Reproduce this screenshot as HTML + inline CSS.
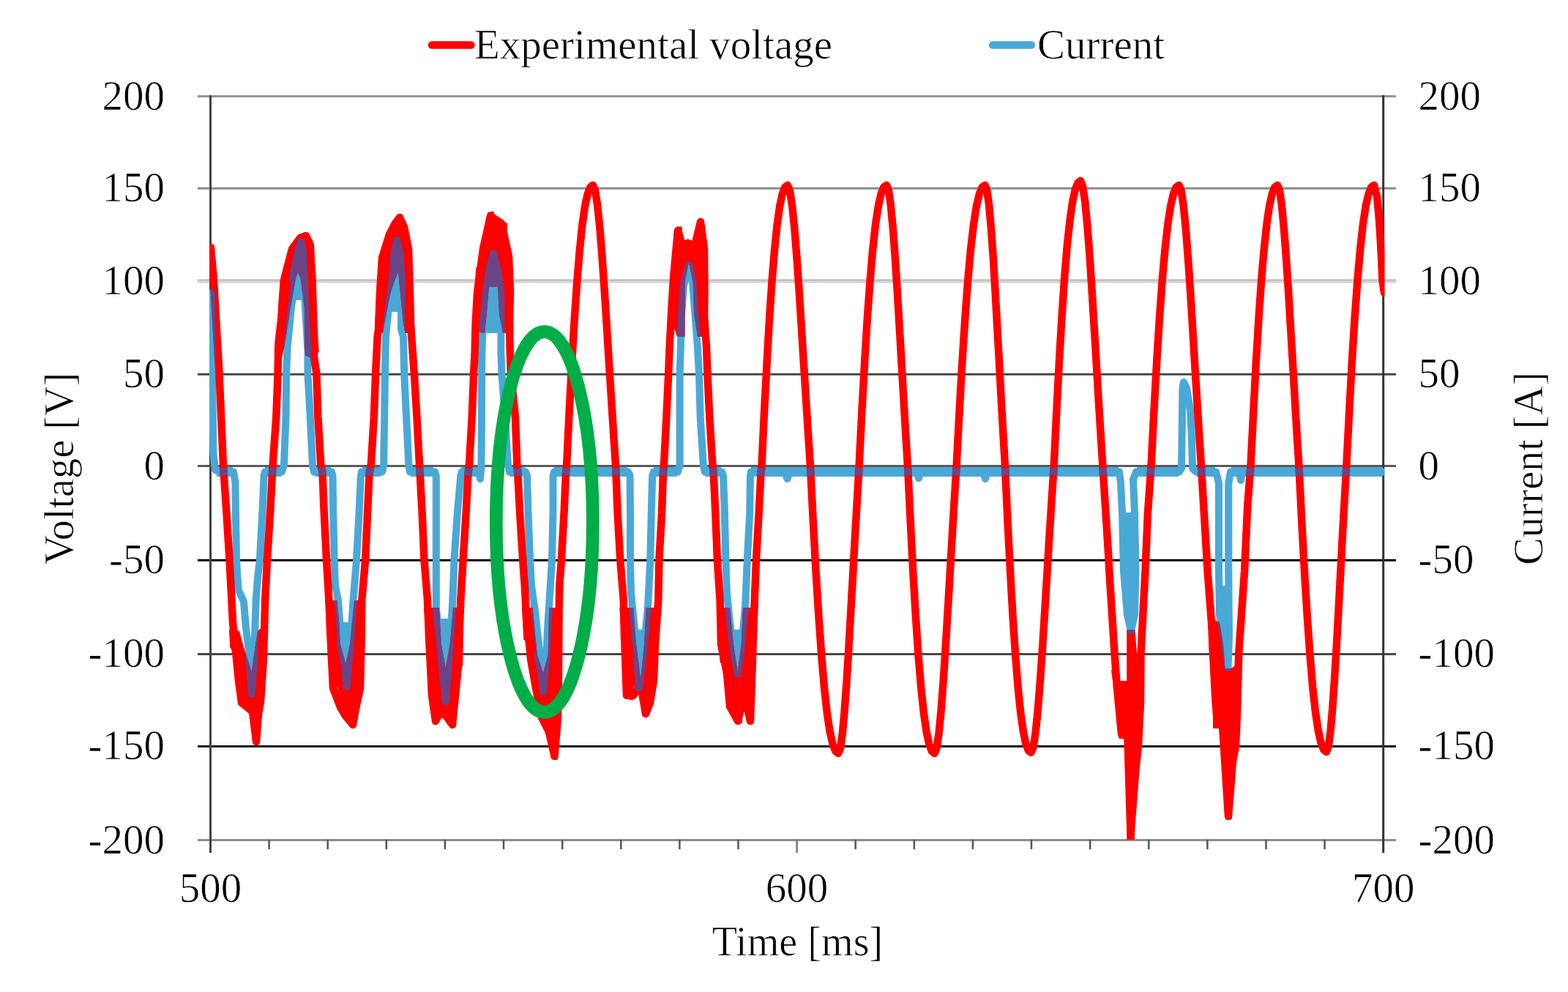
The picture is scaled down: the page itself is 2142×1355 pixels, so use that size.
<!DOCTYPE html><html><head><meta charset="utf-8"><title>Voltage and current</title><style>html,body{margin:0;padding:0;background:#fff;}svg{display:block}</style></head><body>
<svg width="2142" height="1355" viewBox="0 0 2142 1355">
<rect width="2142" height="1355" fill="#fff"/>
<line x1="270" y1="131.5" x2="1907" y2="131.5" stroke="#959595" stroke-width="3"/>
<line x1="270" y1="257.2" x2="1907" y2="257.2" stroke="#8a8a8a" stroke-width="3"/>
<rect x="270" y="381.3" width="1637" height="2.8" fill="#c0c0c0"/><rect x="270" y="384.1" width="1637" height="2.7" fill="#d6d6d6"/>
<line x1="270" y1="511.2" x2="1907" y2="511.2" stroke="#484848" stroke-width="3"/>
<line x1="270" y1="636.5" x2="1907" y2="636.5" stroke="#5a5a5a" stroke-width="3"/>
<line x1="270" y1="765.3" x2="1907" y2="765.3" stroke="#000" stroke-width="3"/>
<line x1="270" y1="893.4" x2="1907" y2="893.4" stroke="#474747" stroke-width="3"/>
<line x1="270" y1="1019.4" x2="1907" y2="1019.4" stroke="#151515" stroke-width="3"/>
<line x1="270" y1="1147.5" x2="1907" y2="1147.5" stroke="#8c8c8c" stroke-width="3"/>
<line x1="287.5" y1="130" x2="287.5" y2="1165" stroke="#444" stroke-width="3"/>
<line x1="1889.7" y1="130" x2="1889.7" y2="1165" stroke="#333" stroke-width="3"/>
<line x1="367.6" y1="1147" x2="367.6" y2="1160" stroke="#555" stroke-width="2.5"/>
<line x1="447.7" y1="1147" x2="447.7" y2="1160" stroke="#555" stroke-width="2.5"/>
<line x1="527.8" y1="1147" x2="527.8" y2="1160" stroke="#555" stroke-width="2.5"/>
<line x1="607.9" y1="1147" x2="607.9" y2="1160" stroke="#555" stroke-width="2.5"/>
<line x1="688.0" y1="1147" x2="688.0" y2="1160" stroke="#555" stroke-width="2.5"/>
<line x1="768.2" y1="1147" x2="768.2" y2="1160" stroke="#555" stroke-width="2.5"/>
<line x1="848.3" y1="1147" x2="848.3" y2="1160" stroke="#555" stroke-width="2.5"/>
<line x1="928.4" y1="1147" x2="928.4" y2="1160" stroke="#555" stroke-width="2.5"/>
<line x1="1008.5" y1="1147" x2="1008.5" y2="1160" stroke="#555" stroke-width="2.5"/>
<line x1="1088.6" y1="1147" x2="1088.6" y2="1165" stroke="#777" stroke-width="2.5"/>
<line x1="1168.7" y1="1147" x2="1168.7" y2="1160" stroke="#555" stroke-width="2.5"/>
<line x1="1248.8" y1="1147" x2="1248.8" y2="1160" stroke="#555" stroke-width="2.5"/>
<line x1="1328.9" y1="1147" x2="1328.9" y2="1160" stroke="#555" stroke-width="2.5"/>
<line x1="1409.0" y1="1147" x2="1409.0" y2="1160" stroke="#555" stroke-width="2.5"/>
<line x1="1489.2" y1="1147" x2="1489.2" y2="1160" stroke="#555" stroke-width="2.5"/>
<line x1="1569.3" y1="1147" x2="1569.3" y2="1160" stroke="#555" stroke-width="2.5"/>
<line x1="1649.4" y1="1147" x2="1649.4" y2="1160" stroke="#555" stroke-width="2.5"/>
<line x1="1729.5" y1="1147" x2="1729.5" y2="1160" stroke="#555" stroke-width="2.5"/>
<line x1="1809.6" y1="1147" x2="1809.6" y2="1160" stroke="#555" stroke-width="2.5"/>
<defs><clipPath id="pc"><rect x="286" y="0" width="1605.5" height="1355"/></clipPath><mask id="rm" maskUnits="userSpaceOnUse" x="0" y="0" width="2142" height="1355"><rect width="2142" height="1355" fill="#000"/><path d="M288.0,338.0 L292.0,383.0 L299.5,510.0 L305.0,636.0 L309.4,700.0 L313.5,765.0 L316.4,820.0 L318.0,850.0 L322.0,890.0 L326.0,930.0 L330.0,960.0 L340.0,968.0 L345.0,972.0 L350.0,1013.0 L353.0,975.0 L356.0,958.0 L360.0,900.0 L362.2,820.0 L365.0,765.0 L369.1,700.0 L372.5,637.0 L377.3,570.0 L379.6,510.0 L380.3,470.0 L386.0,420.0 L388.5,380.0 L399.0,340.0 L410.0,325.0 L418.0,322.0 L424.0,335.0 L425.0,380.0 L424.4,420.0 L426.4,470.0 L432.4,510.0 L434.4,570.0 L438.4,636.0 L440.5,645.0 L442.7,700.0 L446.0,765.0 L449.4,820.0 L451.0,860.0 L455.0,940.0 L465.0,966.0 L472.0,978.0 L482.0,990.0 L486.0,968.0 L492.0,940.0 L494.0,860.0 L494.3,820.0 L499.1,765.0 L502.1,700.0 L504.6,645.0 L506.8,636.0 L510.8,570.0 L513.1,510.0 L515.6,460.0 L517.0,450.0 L519.0,400.0 L522.0,352.0 L532.0,320.0 L540.0,305.0 L546.0,297.0 L552.0,310.0 L558.0,340.0 L560.0,400.0 L561.0,440.0 L562.2,460.0 L565.8,510.0 L569.5,570.0 L573.1,636.0 L573.6,645.0 L576.6,700.0 L579.5,765.0 L584.0,820.0 L586.0,870.0 L590.0,950.0 L595.0,985.0 L600.0,975.0 L608.7,977.0 L618.0,990.0 L622.0,950.0 L626.0,910.0 L629.3,820.0 L632.6,765.0 L636.7,700.0 L639.6,645.0 L640.9,636.0 L644.7,570.0 L647.1,511.0 L648.7,480.0 L649.5,445.0 L652.0,400.0 L660.0,340.0 L670.0,295.0 L685.0,305.0 L695.0,350.0 L697.0,400.0 L696.0,440.0 L696.7,480.0 L697.9,511.0 L704.0,570.0 L706.4,636.0 L707.2,645.0 L710.1,700.0 L714.2,765.0 L716.8,800.0 L718.6,835.0 L725.0,900.0 L732.0,940.0 L740.0,980.0 L750.0,1000.0 L757.5,1033.0 L762.0,980.0 L763.0,911.0 L763.6,835.0 L764.3,800.0 L766.9,765.0 L770.6,700.0 L773.1,645.0 L774.0,637.0 L777.6,563.6 L781.2,495.6 L784.8,435.1 L788.4,383.1 L792.0,340.2 L795.5,306.5 L799.1,281.7 L802.7,265.1 L806.3,255.8 L809.9,253.0 L813.0,260.1 L816.1,280.0 L819.3,310.4 L822.4,349.0 L825.5,393.4 L828.6,441.5 L831.7,491.4 L834.9,541.5 L838.0,590.4 L841.1,637.0 L843.6,700.0 L847.3,765.0 L851.8,820.0 L853.0,870.0 L856.0,950.0 L865.0,950.0 L872.0,940.0 L876.4,942.0 L882.0,975.0 L888.0,960.0 L893.0,930.0 L895.0,880.0 L899.3,820.0 L900.4,765.0 L904.1,700.0 L906.0,645.0 L906.9,636.0 L910.4,570.0 L913.2,511.0 L914.6,475.0 L917.0,430.0 L920.0,380.0 L926.0,315.0 L932.0,335.0 L940.0,332.0 L948.0,340.0 L957.0,303.0 L962.0,340.0 L962.5,400.0 L962.0,430.0 L965.1,475.0 L966.5,511.0 L969.3,570.0 L973.5,636.0 L974.7,645.0 L977.3,700.0 L979.9,765.0 L983.6,820.0 L985.0,880.0 L993.0,920.0 L997.0,965.0 L1008.0,985.0 L1014.0,960.0 L1018.0,955.0 L1025.0,985.0 L1028.0,900.0 L1030.8,820.0 L1033.0,765.0 L1036.7,700.0 L1039.6,645.0 L1040.5,637.0 L1044.0,563.6 L1047.6,495.6 L1051.1,435.1 L1054.6,383.1 L1058.2,340.2 L1061.7,306.5 L1065.2,281.7 L1068.7,265.1 L1072.3,255.8 L1075.8,253.0 L1078.9,260.1 L1082.0,280.0 L1085.2,310.4 L1088.3,349.0 L1091.4,393.4 L1094.5,441.5 L1097.6,491.4 L1100.8,541.5 L1103.9,590.4 L1107.0,637.0 L1110.8,712.0 L1114.6,781.3 L1118.5,843.1 L1122.3,896.2 L1126.1,940.0 L1129.9,974.4 L1133.7,999.7 L1137.6,1016.7 L1141.4,1026.1 L1145.2,1029.0 L1148.0,1021.8 L1150.9,1001.5 L1153.7,970.4 L1156.6,931.0 L1159.4,885.7 L1162.2,836.5 L1165.1,785.6 L1167.9,734.5 L1170.8,684.6 L1173.6,637.0 L1177.3,563.6 L1181.1,495.6 L1184.8,435.1 L1188.6,383.1 L1192.3,340.2 L1196.0,306.5 L1199.8,281.7 L1203.5,265.1 L1207.3,255.8 L1211.0,253.0 L1213.9,260.1 L1216.8,280.0 L1219.7,310.4 L1222.6,349.0 L1225.5,393.4 L1228.4,441.5 L1231.3,491.4 L1234.2,541.5 L1237.1,590.4 L1240.0,637.0 L1243.7,712.0 L1247.3,781.3 L1251.0,843.1 L1254.6,896.2 L1258.3,940.0 L1262.0,974.4 L1265.6,999.7 L1269.3,1016.7 L1272.9,1026.1 L1276.6,1029.0 L1279.6,1021.8 L1282.6,1001.5 L1285.6,970.4 L1288.6,931.0 L1291.6,885.7 L1294.6,836.5 L1297.6,785.6 L1300.6,734.5 L1303.6,684.6 L1306.6,637.0 L1310.5,563.6 L1314.4,495.6 L1318.3,435.1 L1322.2,383.1 L1326.1,340.2 L1330.0,306.5 L1333.9,281.7 L1337.8,265.1 L1341.7,255.8 L1345.6,253.0 L1348.3,260.1 L1351.1,280.0 L1353.8,310.4 L1356.6,349.0 L1359.3,393.4 L1362.0,441.5 L1364.8,491.4 L1367.5,541.5 L1370.3,590.4 L1373.0,637.0 L1376.5,711.8 L1380.1,780.9 L1383.6,842.6 L1387.2,895.6 L1390.7,939.2 L1394.2,973.6 L1397.8,998.8 L1401.3,1015.7 L1404.9,1025.1 L1408.4,1028.0 L1411.5,1020.8 L1414.7,1000.5 L1417.8,969.6 L1420.9,930.3 L1424.1,885.0 L1427.2,836.0 L1430.3,785.2 L1433.4,734.2 L1436.6,684.5 L1439.7,637.0 L1443.3,562.4 L1447.0,493.4 L1450.6,431.9 L1454.2,379.1 L1457.8,335.5 L1461.5,301.3 L1465.1,276.1 L1468.7,259.3 L1472.4,249.9 L1476.0,247.0 L1479.0,254.2 L1482.1,274.4 L1485.1,305.3 L1488.2,344.5 L1491.2,389.6 L1494.2,438.5 L1497.3,489.2 L1500.3,540.0 L1503.4,589.6 L1506.4,637.0 L1514.0,755.0 L1515.3,780.0 L1522.6,893.0 L1526.0,940.0 L1532.0,1003.0 L1536.0,1000.0 L1539.0,960.0 L1544.5,1140.0 L1551.0,1056.0 L1555.0,1018.0 L1558.0,960.0 L1558.5,893.0 L1564.5,780.0 L1568.0,700.0 L1572.5,637.0 L1576.3,563.6 L1580.1,495.6 L1583.9,435.1 L1587.7,383.1 L1591.5,340.2 L1595.3,306.5 L1599.1,281.7 L1602.9,265.1 L1606.7,255.8 L1610.5,253.0 L1613.5,260.1 L1616.6,280.0 L1619.7,310.4 L1622.7,349.0 L1625.8,393.4 L1628.8,441.5 L1631.8,491.4 L1634.9,541.5 L1638.0,590.4 L1641.0,637.0 L1649.6,780.0 L1655.0,850.0 L1660.0,950.0 L1663.0,990.0 L1668.0,960.0 L1678.0,1115.0 L1684.0,1040.0 L1688.0,1019.0 L1690.0,975.0 L1692.2,893.0 L1700.1,780.0 L1704.3,690.0 L1708.5,637.0 L1712.2,563.6 L1715.8,495.6 L1719.5,435.1 L1723.1,383.1 L1726.8,340.2 L1730.4,306.5 L1734.0,281.7 L1737.7,265.1 L1741.3,255.8 L1745.0,253.0 L1748.0,260.1 L1750.9,280.0 L1753.8,310.4 L1756.8,349.0 L1759.8,393.4 L1762.7,441.5 L1765.7,491.4 L1768.6,541.5 L1771.5,590.4 L1774.5,637.0 L1778.2,711.6 L1782.0,780.6 L1785.8,842.1 L1789.5,894.9 L1793.2,938.5 L1797.0,972.7 L1800.8,997.9 L1804.5,1014.7 L1808.2,1024.1 L1812.0,1027.0 L1814.7,1019.8 L1817.5,999.6 L1820.2,968.7 L1822.9,929.5 L1825.7,884.4 L1828.4,835.5 L1831.1,784.8 L1833.8,734.0 L1836.6,684.4 L1839.3,637.0 L1843.1,563.6 L1846.8,495.6 L1850.6,435.1 L1854.4,383.1 L1858.2,340.2 L1861.9,306.5 L1865.7,281.7 L1869.5,265.1 L1873.2,255.8 L1877.0,253.0 L1881.0,268.0 L1884.0,300.0 L1886.5,340.0 L1888.5,383.0 L1891.0,400.0" fill="none" stroke="#fff" stroke-width="10.5" stroke-linejoin="round" stroke-linecap="round"/><g fill="#fff"><path d="M313.0,860.0 L314.2,884.6 L323.0,896.4 L325.2,958.3 L330.4,962.7 L339.2,971.6 L345.1,976.0 L355.5,976.0 L355.5,958.3 L359.9,955.4 L359.9,893.4 L364.3,884.6 L364.0,850.0 L352.0,862.0 L348.5,884.0 L343.7,918.0 L333.0,884.0 L327.0,862.0 Z"/><path d="M377.3,485.0 L379.9,419.5 L382.6,382.3 L385.9,379.7 L391.9,363.7 L395.9,339.8 L399.8,333.2 L406.5,323.9 L415.8,320.0 L422.4,320.0 L425.0,334.5 L429.0,339.8 L431.7,379.7 L433.0,419.5 L434.4,459.4 L435.7,480.0 L430.0,492.0 L417.0,485.0 L416.0,470.0 L415.8,420.0 L410.5,380.0 L407.0,372.0 L404.0,380.0 L397.0,420.0 L389.0,470.0 L386.0,485.0 L381.0,492.0 Z"/><path d="M444.2,820.0 L448.6,881.6 L450.8,894.9 L451.5,940.6 L456.7,943.6 L461.1,938.4 L464.1,965.7 L469.2,974.5 L472.2,979.0 L478.1,979.0 L478.8,992.2 L485.5,992.2 L488.4,968.6 L491.4,967.2 L492.1,940.6 L495.8,933.2 L497.3,892.0 L498.7,820.0 L484.0,820.0 L481.0,850.0 L478.1,880.0 L472.2,906.7 L464.8,880.0 L463.3,850.0 L460.4,820.0 Z"/><path d="M512.0,450.0 L514.9,386.2 L518.9,351.7 L524.2,346.4 L529.5,338.4 L532.2,310.5 L540.2,307.9 L542.8,294.6 L550.8,294.6 L552.1,310.5 L554.1,333.1 L561.4,335.8 L562.7,386.2 L565.4,439.4 L566.0,455.0 L553.4,455.0 L550.8,440.0 L546.8,400.0 L544.1,372.0 L541.0,378.0 L533.5,400.0 L525.5,440.0 L523.0,455.0 Z"/><path d="M579.2,830.0 L582.1,874.2 L584.3,912.6 L587.3,955.4 L591.0,986.3 L599.1,987.8 L602.0,971.6 L608.7,977.5 L613.1,984.9 L614.6,992.2 L621.9,992.2 L624.2,912.6 L632.3,909.6 L633.0,830.0 L619.0,830.0 L614.6,880.0 L608.7,912.6 L602.8,880.0 L600.0,830.0 Z"/><path d="M645.0,452.0 L650.2,365.6 L659.5,364.3 L660.2,324.4 L665.5,323.1 L666.2,289.9 L674.1,288.6 L676.8,297.9 L682.1,300.5 L683.4,304.5 L692.7,304.5 L694.1,349.7 L697.4,352.3 L698.0,406.8 L700.7,408.1 L701.4,455.0 L687.0,455.0 L682.1,430.0 L680.0,392.0 L668.0,392.0 L664.8,430.0 L662.0,455.0 Z"/><path d="M712.9,830.0 L715.3,873.9 L721.0,877.1 L725.0,898.2 L729.1,921.0 L734.0,943.7 L736.4,981.0 L738.9,985.9 L745.3,985.9 L747.8,1002.2 L752.7,1005.4 L753.5,1036.3 L761.6,1037.9 L763.2,976.2 L764.0,911.2 L765.7,830.0 L750.2,830.0 L748.6,895.0 L742.1,919.3 L734.0,895.0 L727.5,830.0 Z"/><path d="M846.3,830.0 L850.1,880.2 L853.2,930.4 L855.7,954.3 L864.5,956.8 L865.8,936.7 L871.4,943.0 L876.4,940.5 L878.3,976.9 L886.5,978.1 L887.7,958.0 L891.5,955.5 L894.0,936.7 L895.3,892.8 L899.7,830.0 L882.7,830.0 L880.0,880.0 L875.2,928.0 L869.0,880.0 L865.1,830.0 Z"/><path d="M914.6,430.2 L917.4,382.5 L920.2,336.3 L924.4,309.6 L931.5,309.6 L933.6,334.9 L939.2,330.7 L945.5,330.7 L947.6,339.1 L952.5,339.1 L953.2,301.2 L960.9,299.8 L962.3,332.1 L963.7,382.5 L966.5,430.2 L967.0,460.0 L953.0,460.0 L948.3,430.0 L946.5,385.0 L941.0,358.0 L935.7,385.0 L935.7,460.0 L925.0,460.0 Z"/><path d="M980.1,830.0 L982.6,892.8 L983.8,905.3 L992.0,907.8 L995.1,924.1 L996.4,968.1 L1002.7,973.1 L1004.6,986.9 L1014.0,988.2 L1014.6,950.5 L1020.2,950.5 L1021.5,988.2 L1028.4,988.2 L1029.0,892.8 L1032.8,830.0 L1015.0,830.0 L1012.7,880.0 L1007.7,918.0 L1002.0,880.0 L997.0,830.0 Z"/><path d="M1518.0,915.0 L1522.7,950.0 L1528.7,1009.0 L1536.3,1009.0 L1538.0,965.0 L1539.3,1147.0 L1549.9,1147.0 L1552.2,1056.0 L1555.2,1018.0 L1560.5,950.0 L1562.0,915.0 L1554.0,905.0 L1550.5,860.0 L1539.2,860.0 L1539.2,930.0 L1530.0,930.0 L1526.0,915.0 Z"/><path d="M1651.0,880.0 L1656.9,950.0 L1657.0,995.0 L1670.0,995.0 L1670.2,963.0 L1672.9,963.0 L1674.9,1119.0 L1682.8,1119.0 L1684.8,1036.0 L1688.2,1019.0 L1689.5,977.0 L1693.5,950.0 L1694.0,900.0 L1686.0,910.0 L1681.5,913.0 L1673.5,913.0 L1671.0,880.0 L1666.0,850.0 L1656.0,845.0 Z"/></g></mask></defs>
<g clip-path="url(#pc)">
<path d="M288.5,400.0 L290.0,520.0 L291.5,620.0 L294.0,642.0 L300.0,644.5 L319.0,644.5 L321.5,660.0 L321.9,700.0 L323.0,765.0 L325.5,805.0 L333.0,822.0 L336.0,858.0 L340.0,890.0 L343.7,948.0 L347.0,900.0 L349.6,820.0 L352.0,790.0 L354.8,765.0 L358.4,700.0 L360.6,650.0 L362.0,644.5 L385.0,644.5 L387.9,636.0 L390.5,570.0 L391.2,510.0 L392.5,475.0 L398.0,420.0 L403.0,385.0 L408.0,340.0 L411.0,330.0 L414.0,345.0 L416.0,385.0 L417.0,420.0 L420.5,480.0 L420.4,510.0 L423.8,570.0 L427.0,636.0 L429.0,644.5 L453.0,644.5 L454.5,650.0 L455.2,700.0 L456.7,765.0 L458.0,800.0 L461.9,820.0 L465.0,860.0 L469.0,890.0 L473.5,938.0 L477.0,895.0 L480.0,860.0 L482.5,820.0 L485.0,790.0 L487.0,765.0 L490.6,700.0 L492.8,650.0 L494.0,644.5 L522.0,644.5 L524.1,636.0 L525.2,570.0 L526.0,510.0 L527.0,460.0 L528.0,450.0 L531.0,420.0 L535.0,390.0 L538.0,350.0 L542.0,328.0 L546.0,345.0 L549.0,380.0 L548.0,420.0 L548.0,450.0 L551.0,460.0 L552.2,510.0 L555.1,570.0 L558.4,636.0 L560.0,644.5 L594.0,644.5 L595.8,650.0 L595.8,700.0 L595.8,765.0 L595.8,830.0 L600.0,870.0 L605.0,920.0 L608.7,958.0 L612.0,920.0 L614.6,880.0 L617.0,845.0 L618.3,820.0 L620.4,765.0 L624.9,700.0 L629.3,650.0 L631.0,644.5 L654.0,644.5 L656.0,654.0 L657.5,636.0 L658.0,570.0 L658.0,511.0 L658.4,480.0 L660.0,440.0 L664.0,400.0 L668.0,370.0 L674.0,346.0 L680.0,370.0 L684.0,400.0 L684.5,440.0 L684.3,480.0 L685.5,511.0 L690.0,570.0 L694.0,636.0 L696.0,644.5 L718.0,644.5 L720.0,650.0 L721.5,700.0 L724.1,765.0 L726.0,800.0 L731.0,835.0 L736.0,880.0 L740.0,920.0 L742.0,945.0 L746.0,900.0 L748.0,860.0 L750.5,820.0 L754.0,765.0 L755.5,700.0 L755.5,650.0 L757.0,644.5 L858.0,644.5 L860.6,650.0 L861.0,700.0 L861.0,765.0 L862.0,810.0 L866.0,850.0 L870.0,890.0 L873.0,940.0 L878.0,900.0 L882.0,860.0 L885.0,830.0 L888.3,765.0 L889.8,700.0 L891.2,650.0 L893.0,644.5 L926.0,644.5 L928.6,636.0 L928.6,570.0 L928.6,511.0 L930.0,470.0 L931.0,430.0 L934.0,390.0 L941.3,362.0 L946.0,385.0 L949.6,430.0 L953.0,475.0 L955.0,511.0 L956.7,570.0 L960.9,636.0 L963.0,644.5 L986.0,644.5 L988.0,650.0 L989.9,700.0 L991.4,765.0 L993.0,810.0 L997.0,850.0 L1002.0,890.0 L1007.7,920.0 L1012.0,890.0 L1015.0,860.0 L1018.0,830.0 L1020.8,765.0 L1024.2,700.0 L1024.9,650.0 L1026.0,644.5 L1072.0,644.5 L1075.5,654.0 L1079.0,644.5 L1252.0,644.5 L1255.0,653.0 L1258.0,644.5 L1343.0,644.5 L1346.0,654.0 L1349.0,644.5 L1529.0,644.5 L1531.0,660.0 L1533.0,700.0 L1535.0,780.0 L1540.0,840.0 L1545.0,862.0 L1550.0,840.0 L1551.5,780.0 L1550.0,700.0 L1548.0,655.0 L1552.0,644.5 L1611.0,644.5 L1614.0,640.0 L1615.5,530.0 L1617.0,522.0 L1621.0,530.0 L1626.0,560.0 L1628.0,600.0 L1629.0,640.0 L1634.0,644.5 L1661.0,644.5 L1665.0,660.0 L1665.0,780.0 L1666.0,840.0 L1672.0,870.0 L1677.5,912.0 L1679.0,870.0 L1678.3,780.0 L1678.3,660.0 L1681.0,644.5 L1693.0,644.5 L1695.0,656.0 L1697.0,644.5 L1889.0,644.5" fill="none" stroke="#4aa8d6" stroke-width="10" stroke-linejoin="round" stroke-linecap="round"/>
<g stroke="#4aa8d6" stroke-width="13"><line x1="296.0" y1="644.5" x2="318.0" y2="644.5"/><line x1="362.0" y1="644.5" x2="384.0" y2="644.5"/><line x1="430.0" y1="644.5" x2="452.0" y2="644.5"/><line x1="495.0" y1="644.5" x2="520.0" y2="644.5"/><line x1="561.0" y1="644.5" x2="592.0" y2="644.5"/><line x1="630.0" y1="644.5" x2="653.0" y2="644.5"/><line x1="696.0" y1="644.5" x2="717.0" y2="644.5"/><line x1="757.0" y1="644.5" x2="857.0" y2="644.5"/><line x1="893.0" y1="644.5" x2="925.0" y2="644.5"/><line x1="963.0" y1="644.5" x2="985.0" y2="644.5"/><line x1="1026.0" y1="644.5" x2="1528.0" y2="644.5"/><line x1="1553.0" y1="644.5" x2="1610.0" y2="644.5"/><line x1="1634.0" y1="644.5" x2="1660.0" y2="644.5"/><line x1="1682.0" y1="644.5" x2="1889.0" y2="644.5"/></g>
<g fill="#4aa8d6"><path d="M394.5,380.0 L402.5,340.0 L410.0,327.0 L418.4,340.0 L418.4,380.0 L415.0,410.0 L404.0,410.0 Z"/><path d="M459.5,850.0 L460.4,880.0 L466.0,910.0 L473.7,939.0 L480.0,910.0 L484.0,880.0 L485.0,850.0 Z"/><path d="M529.5,400.0 L534.8,360.0 L540.0,326.0 L546.0,326.0 L550.8,350.0 L553.4,400.0 L551.0,426.0 L530.0,426.0 Z"/><path d="M593.0,845.0 L600.0,890.0 L608.7,960.0 L616.0,890.0 L620.0,845.0 Z"/><path d="M654.0,450.0 L657.0,430.0 L664.0,385.0 L674.0,344.0 L683.0,370.0 L688.0,430.0 L686.0,455.0 L665.0,455.0 L662.0,450.0 Z"/><path d="M729.0,892.0 L736.0,930.0 L742.0,950.0 L748.0,920.0 L750.0,892.0 Z"/><path d="M866.0,860.0 L872.0,940.0 L876.0,940.0 L882.0,860.0 Z"/><path d="M998.0,860.0 L1004.0,900.0 L1007.7,922.0 L1012.0,900.0 L1016.0,860.0 Z"/><path d="M1533.0,700.0 L1549.0,700.0 L1550.5,780.0 L1545.0,862.0 L1537.0,780.0 Z"/><path d="M1662.0,800.0 L1680.0,800.0 L1680.0,860.0 L1677.5,912.0 L1666.0,850.0 Z"/></g>
<path d="M288.0,338.0 L292.0,383.0 L299.5,510.0 L305.0,636.0 L309.4,700.0 L313.5,765.0 L316.4,820.0 L318.0,850.0 L322.0,890.0 L326.0,930.0 L330.0,960.0 L340.0,968.0 L345.0,972.0 L350.0,1013.0 L353.0,975.0 L356.0,958.0 L360.0,900.0 L362.2,820.0 L365.0,765.0 L369.1,700.0 L372.5,637.0 L377.3,570.0 L379.6,510.0 L380.3,470.0 L386.0,420.0 L388.5,380.0 L399.0,340.0 L410.0,325.0 L418.0,322.0 L424.0,335.0 L425.0,380.0 L424.4,420.0 L426.4,470.0 L432.4,510.0 L434.4,570.0 L438.4,636.0 L440.5,645.0 L442.7,700.0 L446.0,765.0 L449.4,820.0 L451.0,860.0 L455.0,940.0 L465.0,966.0 L472.0,978.0 L482.0,990.0 L486.0,968.0 L492.0,940.0 L494.0,860.0 L494.3,820.0 L499.1,765.0 L502.1,700.0 L504.6,645.0 L506.8,636.0 L510.8,570.0 L513.1,510.0 L515.6,460.0 L517.0,450.0 L519.0,400.0 L522.0,352.0 L532.0,320.0 L540.0,305.0 L546.0,297.0 L552.0,310.0 L558.0,340.0 L560.0,400.0 L561.0,440.0 L562.2,460.0 L565.8,510.0 L569.5,570.0 L573.1,636.0 L573.6,645.0 L576.6,700.0 L579.5,765.0 L584.0,820.0 L586.0,870.0 L590.0,950.0 L595.0,985.0 L600.0,975.0 L608.7,977.0 L618.0,990.0 L622.0,950.0 L626.0,910.0 L629.3,820.0 L632.6,765.0 L636.7,700.0 L639.6,645.0 L640.9,636.0 L644.7,570.0 L647.1,511.0 L648.7,480.0 L649.5,445.0 L652.0,400.0 L660.0,340.0 L670.0,295.0 L685.0,305.0 L695.0,350.0 L697.0,400.0 L696.0,440.0 L696.7,480.0 L697.9,511.0 L704.0,570.0 L706.4,636.0 L707.2,645.0 L710.1,700.0 L714.2,765.0 L716.8,800.0 L718.6,835.0 L725.0,900.0 L732.0,940.0 L740.0,980.0 L750.0,1000.0 L757.5,1033.0 L762.0,980.0 L763.0,911.0 L763.6,835.0 L764.3,800.0 L766.9,765.0 L770.6,700.0 L773.1,645.0 L774.0,637.0 L777.6,563.6 L781.2,495.6 L784.8,435.1 L788.4,383.1 L792.0,340.2 L795.5,306.5 L799.1,281.7 L802.7,265.1 L806.3,255.8 L809.9,253.0 L813.0,260.1 L816.1,280.0 L819.3,310.4 L822.4,349.0 L825.5,393.4 L828.6,441.5 L831.7,491.4 L834.9,541.5 L838.0,590.4 L841.1,637.0 L843.6,700.0 L847.3,765.0 L851.8,820.0 L853.0,870.0 L856.0,950.0 L865.0,950.0 L872.0,940.0 L876.4,942.0 L882.0,975.0 L888.0,960.0 L893.0,930.0 L895.0,880.0 L899.3,820.0 L900.4,765.0 L904.1,700.0 L906.0,645.0 L906.9,636.0 L910.4,570.0 L913.2,511.0 L914.6,475.0 L917.0,430.0 L920.0,380.0 L926.0,315.0 L932.0,335.0 L940.0,332.0 L948.0,340.0 L957.0,303.0 L962.0,340.0 L962.5,400.0 L962.0,430.0 L965.1,475.0 L966.5,511.0 L969.3,570.0 L973.5,636.0 L974.7,645.0 L977.3,700.0 L979.9,765.0 L983.6,820.0 L985.0,880.0 L993.0,920.0 L997.0,965.0 L1008.0,985.0 L1014.0,960.0 L1018.0,955.0 L1025.0,985.0 L1028.0,900.0 L1030.8,820.0 L1033.0,765.0 L1036.7,700.0 L1039.6,645.0 L1040.5,637.0 L1044.0,563.6 L1047.6,495.6 L1051.1,435.1 L1054.6,383.1 L1058.2,340.2 L1061.7,306.5 L1065.2,281.7 L1068.7,265.1 L1072.3,255.8 L1075.8,253.0 L1078.9,260.1 L1082.0,280.0 L1085.2,310.4 L1088.3,349.0 L1091.4,393.4 L1094.5,441.5 L1097.6,491.4 L1100.8,541.5 L1103.9,590.4 L1107.0,637.0 L1110.8,712.0 L1114.6,781.3 L1118.5,843.1 L1122.3,896.2 L1126.1,940.0 L1129.9,974.4 L1133.7,999.7 L1137.6,1016.7 L1141.4,1026.1 L1145.2,1029.0 L1148.0,1021.8 L1150.9,1001.5 L1153.7,970.4 L1156.6,931.0 L1159.4,885.7 L1162.2,836.5 L1165.1,785.6 L1167.9,734.5 L1170.8,684.6 L1173.6,637.0 L1177.3,563.6 L1181.1,495.6 L1184.8,435.1 L1188.6,383.1 L1192.3,340.2 L1196.0,306.5 L1199.8,281.7 L1203.5,265.1 L1207.3,255.8 L1211.0,253.0 L1213.9,260.1 L1216.8,280.0 L1219.7,310.4 L1222.6,349.0 L1225.5,393.4 L1228.4,441.5 L1231.3,491.4 L1234.2,541.5 L1237.1,590.4 L1240.0,637.0 L1243.7,712.0 L1247.3,781.3 L1251.0,843.1 L1254.6,896.2 L1258.3,940.0 L1262.0,974.4 L1265.6,999.7 L1269.3,1016.7 L1272.9,1026.1 L1276.6,1029.0 L1279.6,1021.8 L1282.6,1001.5 L1285.6,970.4 L1288.6,931.0 L1291.6,885.7 L1294.6,836.5 L1297.6,785.6 L1300.6,734.5 L1303.6,684.6 L1306.6,637.0 L1310.5,563.6 L1314.4,495.6 L1318.3,435.1 L1322.2,383.1 L1326.1,340.2 L1330.0,306.5 L1333.9,281.7 L1337.8,265.1 L1341.7,255.8 L1345.6,253.0 L1348.3,260.1 L1351.1,280.0 L1353.8,310.4 L1356.6,349.0 L1359.3,393.4 L1362.0,441.5 L1364.8,491.4 L1367.5,541.5 L1370.3,590.4 L1373.0,637.0 L1376.5,711.8 L1380.1,780.9 L1383.6,842.6 L1387.2,895.6 L1390.7,939.2 L1394.2,973.6 L1397.8,998.8 L1401.3,1015.7 L1404.9,1025.1 L1408.4,1028.0 L1411.5,1020.8 L1414.7,1000.5 L1417.8,969.6 L1420.9,930.3 L1424.1,885.0 L1427.2,836.0 L1430.3,785.2 L1433.4,734.2 L1436.6,684.5 L1439.7,637.0 L1443.3,562.4 L1447.0,493.4 L1450.6,431.9 L1454.2,379.1 L1457.8,335.5 L1461.5,301.3 L1465.1,276.1 L1468.7,259.3 L1472.4,249.9 L1476.0,247.0 L1479.0,254.2 L1482.1,274.4 L1485.1,305.3 L1488.2,344.5 L1491.2,389.6 L1494.2,438.5 L1497.3,489.2 L1500.3,540.0 L1503.4,589.6 L1506.4,637.0 L1514.0,755.0 L1515.3,780.0 L1522.6,893.0 L1526.0,940.0 L1532.0,1003.0 L1536.0,1000.0 L1539.0,960.0 L1544.5,1140.0 L1551.0,1056.0 L1555.0,1018.0 L1558.0,960.0 L1558.5,893.0 L1564.5,780.0 L1568.0,700.0 L1572.5,637.0 L1576.3,563.6 L1580.1,495.6 L1583.9,435.1 L1587.7,383.1 L1591.5,340.2 L1595.3,306.5 L1599.1,281.7 L1602.9,265.1 L1606.7,255.8 L1610.5,253.0 L1613.5,260.1 L1616.6,280.0 L1619.7,310.4 L1622.7,349.0 L1625.8,393.4 L1628.8,441.5 L1631.8,491.4 L1634.9,541.5 L1638.0,590.4 L1641.0,637.0 L1649.6,780.0 L1655.0,850.0 L1660.0,950.0 L1663.0,990.0 L1668.0,960.0 L1678.0,1115.0 L1684.0,1040.0 L1688.0,1019.0 L1690.0,975.0 L1692.2,893.0 L1700.1,780.0 L1704.3,690.0 L1708.5,637.0 L1712.2,563.6 L1715.8,495.6 L1719.5,435.1 L1723.1,383.1 L1726.8,340.2 L1730.4,306.5 L1734.0,281.7 L1737.7,265.1 L1741.3,255.8 L1745.0,253.0 L1748.0,260.1 L1750.9,280.0 L1753.8,310.4 L1756.8,349.0 L1759.8,393.4 L1762.7,441.5 L1765.7,491.4 L1768.6,541.5 L1771.5,590.4 L1774.5,637.0 L1778.2,711.6 L1782.0,780.6 L1785.8,842.1 L1789.5,894.9 L1793.2,938.5 L1797.0,972.7 L1800.8,997.9 L1804.5,1014.7 L1808.2,1024.1 L1812.0,1027.0 L1814.7,1019.8 L1817.5,999.6 L1820.2,968.7 L1822.9,929.5 L1825.7,884.4 L1828.4,835.5 L1831.1,784.8 L1833.8,734.0 L1836.6,684.4 L1839.3,637.0 L1843.1,563.6 L1846.8,495.6 L1850.6,435.1 L1854.4,383.1 L1858.2,340.2 L1861.9,306.5 L1865.7,281.7 L1869.5,265.1 L1873.2,255.8 L1877.0,253.0 L1881.0,268.0 L1884.0,300.0 L1886.5,340.0 L1888.5,383.0 L1891.0,400.0" fill="none" stroke="#ff0000" stroke-width="10.5" stroke-linejoin="round" stroke-linecap="round"/>
<g fill="#ff0000"><path d="M313.0,860.0 L314.2,884.6 L323.0,896.4 L325.2,958.3 L330.4,962.7 L339.2,971.6 L345.1,976.0 L355.5,976.0 L355.5,958.3 L359.9,955.4 L359.9,893.4 L364.3,884.6 L364.0,850.0 L352.0,862.0 L348.5,884.0 L343.7,918.0 L333.0,884.0 L327.0,862.0 Z"/><path d="M377.3,485.0 L379.9,419.5 L382.6,382.3 L385.9,379.7 L391.9,363.7 L395.9,339.8 L399.8,333.2 L406.5,323.9 L415.8,320.0 L422.4,320.0 L425.0,334.5 L429.0,339.8 L431.7,379.7 L433.0,419.5 L434.4,459.4 L435.7,480.0 L430.0,492.0 L417.0,485.0 L416.0,470.0 L415.8,420.0 L410.5,380.0 L407.0,372.0 L404.0,380.0 L397.0,420.0 L389.0,470.0 L386.0,485.0 L381.0,492.0 Z"/><path d="M444.2,820.0 L448.6,881.6 L450.8,894.9 L451.5,940.6 L456.7,943.6 L461.1,938.4 L464.1,965.7 L469.2,974.5 L472.2,979.0 L478.1,979.0 L478.8,992.2 L485.5,992.2 L488.4,968.6 L491.4,967.2 L492.1,940.6 L495.8,933.2 L497.3,892.0 L498.7,820.0 L484.0,820.0 L481.0,850.0 L478.1,880.0 L472.2,906.7 L464.8,880.0 L463.3,850.0 L460.4,820.0 Z"/><path d="M512.0,450.0 L514.9,386.2 L518.9,351.7 L524.2,346.4 L529.5,338.4 L532.2,310.5 L540.2,307.9 L542.8,294.6 L550.8,294.6 L552.1,310.5 L554.1,333.1 L561.4,335.8 L562.7,386.2 L565.4,439.4 L566.0,455.0 L553.4,455.0 L550.8,440.0 L546.8,400.0 L544.1,372.0 L541.0,378.0 L533.5,400.0 L525.5,440.0 L523.0,455.0 Z"/><path d="M579.2,830.0 L582.1,874.2 L584.3,912.6 L587.3,955.4 L591.0,986.3 L599.1,987.8 L602.0,971.6 L608.7,977.5 L613.1,984.9 L614.6,992.2 L621.9,992.2 L624.2,912.6 L632.3,909.6 L633.0,830.0 L619.0,830.0 L614.6,880.0 L608.7,912.6 L602.8,880.0 L600.0,830.0 Z"/><path d="M645.0,452.0 L650.2,365.6 L659.5,364.3 L660.2,324.4 L665.5,323.1 L666.2,289.9 L674.1,288.6 L676.8,297.9 L682.1,300.5 L683.4,304.5 L692.7,304.5 L694.1,349.7 L697.4,352.3 L698.0,406.8 L700.7,408.1 L701.4,455.0 L687.0,455.0 L682.1,430.0 L680.0,392.0 L668.0,392.0 L664.8,430.0 L662.0,455.0 Z"/><path d="M712.9,830.0 L715.3,873.9 L721.0,877.1 L725.0,898.2 L729.1,921.0 L734.0,943.7 L736.4,981.0 L738.9,985.9 L745.3,985.9 L747.8,1002.2 L752.7,1005.4 L753.5,1036.3 L761.6,1037.9 L763.2,976.2 L764.0,911.2 L765.7,830.0 L750.2,830.0 L748.6,895.0 L742.1,919.3 L734.0,895.0 L727.5,830.0 Z"/><path d="M846.3,830.0 L850.1,880.2 L853.2,930.4 L855.7,954.3 L864.5,956.8 L865.8,936.7 L871.4,943.0 L876.4,940.5 L878.3,976.9 L886.5,978.1 L887.7,958.0 L891.5,955.5 L894.0,936.7 L895.3,892.8 L899.7,830.0 L882.7,830.0 L880.0,880.0 L875.2,928.0 L869.0,880.0 L865.1,830.0 Z"/><path d="M914.6,430.2 L917.4,382.5 L920.2,336.3 L924.4,309.6 L931.5,309.6 L933.6,334.9 L939.2,330.7 L945.5,330.7 L947.6,339.1 L952.5,339.1 L953.2,301.2 L960.9,299.8 L962.3,332.1 L963.7,382.5 L966.5,430.2 L967.0,460.0 L953.0,460.0 L948.3,430.0 L946.5,385.0 L941.0,358.0 L935.7,385.0 L935.7,460.0 L925.0,460.0 Z"/><path d="M980.1,830.0 L982.6,892.8 L983.8,905.3 L992.0,907.8 L995.1,924.1 L996.4,968.1 L1002.7,973.1 L1004.6,986.9 L1014.0,988.2 L1014.6,950.5 L1020.2,950.5 L1021.5,988.2 L1028.4,988.2 L1029.0,892.8 L1032.8,830.0 L1015.0,830.0 L1012.7,880.0 L1007.7,918.0 L1002.0,880.0 L997.0,830.0 Z"/><path d="M1518.0,915.0 L1522.7,950.0 L1528.7,1009.0 L1536.3,1009.0 L1538.0,965.0 L1539.3,1147.0 L1549.9,1147.0 L1552.2,1056.0 L1555.2,1018.0 L1560.5,950.0 L1562.0,915.0 L1554.0,905.0 L1550.5,860.0 L1539.2,860.0 L1539.2,930.0 L1530.0,930.0 L1526.0,915.0 Z"/><path d="M1651.0,880.0 L1656.9,950.0 L1657.0,995.0 L1670.0,995.0 L1670.2,963.0 L1672.9,963.0 L1674.9,1119.0 L1682.8,1119.0 L1684.8,1036.0 L1688.2,1019.0 L1689.5,977.0 L1693.5,950.0 L1694.0,900.0 L1686.0,910.0 L1681.5,913.0 L1673.5,913.0 L1671.0,880.0 L1666.0,850.0 L1656.0,845.0 Z"/></g>
<g mask="url(#rm)"><path d="M288.5,400.0 L290.0,520.0 L291.5,620.0 L294.0,642.0 L300.0,644.5 L319.0,644.5 L321.5,660.0 L321.9,700.0 L323.0,765.0 L325.5,805.0 L333.0,822.0 L336.0,858.0 L340.0,890.0 L343.7,948.0 L347.0,900.0 L349.6,820.0 L352.0,790.0 L354.8,765.0 L358.4,700.0 L360.6,650.0 L362.0,644.5 L385.0,644.5 L387.9,636.0 L390.5,570.0 L391.2,510.0 L392.5,475.0 L398.0,420.0 L403.0,385.0 L408.0,340.0 L411.0,330.0 L414.0,345.0 L416.0,385.0 L417.0,420.0 L420.5,480.0 L420.4,510.0 L423.8,570.0 L427.0,636.0 L429.0,644.5 L453.0,644.5 L454.5,650.0 L455.2,700.0 L456.7,765.0 L458.0,800.0 L461.9,820.0 L465.0,860.0 L469.0,890.0 L473.5,938.0 L477.0,895.0 L480.0,860.0 L482.5,820.0 L485.0,790.0 L487.0,765.0 L490.6,700.0 L492.8,650.0 L494.0,644.5 L522.0,644.5 L524.1,636.0 L525.2,570.0 L526.0,510.0 L527.0,460.0 L528.0,450.0 L531.0,420.0 L535.0,390.0 L538.0,350.0 L542.0,328.0 L546.0,345.0 L549.0,380.0 L548.0,420.0 L548.0,450.0 L551.0,460.0 L552.2,510.0 L555.1,570.0 L558.4,636.0 L560.0,644.5 L594.0,644.5 L595.8,650.0 L595.8,700.0 L595.8,765.0 L595.8,830.0 L600.0,870.0 L605.0,920.0 L608.7,958.0 L612.0,920.0 L614.6,880.0 L617.0,845.0 L618.3,820.0 L620.4,765.0 L624.9,700.0 L629.3,650.0 L631.0,644.5 L654.0,644.5 L656.0,654.0 L657.5,636.0 L658.0,570.0 L658.0,511.0 L658.4,480.0 L660.0,440.0 L664.0,400.0 L668.0,370.0 L674.0,346.0 L680.0,370.0 L684.0,400.0 L684.5,440.0 L684.3,480.0 L685.5,511.0 L690.0,570.0 L694.0,636.0 L696.0,644.5 L718.0,644.5 L720.0,650.0 L721.5,700.0 L724.1,765.0 L726.0,800.0 L731.0,835.0 L736.0,880.0 L740.0,920.0 L742.0,945.0 L746.0,900.0 L748.0,860.0 L750.5,820.0 L754.0,765.0 L755.5,700.0 L755.5,650.0 L757.0,644.5 L858.0,644.5 L860.6,650.0 L861.0,700.0 L861.0,765.0 L862.0,810.0 L866.0,850.0 L870.0,890.0 L873.0,940.0 L878.0,900.0 L882.0,860.0 L885.0,830.0 L888.3,765.0 L889.8,700.0 L891.2,650.0 L893.0,644.5 L926.0,644.5 L928.6,636.0 L928.6,570.0 L928.6,511.0 L930.0,470.0 L931.0,430.0 L934.0,390.0 L941.3,362.0 L946.0,385.0 L949.6,430.0 L953.0,475.0 L955.0,511.0 L956.7,570.0 L960.9,636.0 L963.0,644.5 L986.0,644.5 L988.0,650.0 L989.9,700.0 L991.4,765.0 L993.0,810.0 L997.0,850.0 L1002.0,890.0 L1007.7,920.0 L1012.0,890.0 L1015.0,860.0 L1018.0,830.0 L1020.8,765.0 L1024.2,700.0 L1024.9,650.0 L1026.0,644.5 L1072.0,644.5 L1075.5,654.0 L1079.0,644.5 L1252.0,644.5 L1255.0,653.0 L1258.0,644.5 L1343.0,644.5 L1346.0,654.0 L1349.0,644.5 L1529.0,644.5 L1531.0,660.0 L1533.0,700.0 L1535.0,780.0 L1540.0,840.0 L1545.0,862.0 L1550.0,840.0 L1551.5,780.0 L1550.0,700.0 L1548.0,655.0 L1552.0,644.5 L1611.0,644.5 L1614.0,640.0 L1615.5,530.0 L1617.0,522.0 L1621.0,530.0 L1626.0,560.0 L1628.0,600.0 L1629.0,640.0 L1634.0,644.5 L1661.0,644.5 L1665.0,660.0 L1665.0,780.0 L1666.0,840.0 L1672.0,870.0 L1677.5,912.0 L1679.0,870.0 L1678.3,780.0 L1678.3,660.0 L1681.0,644.5 L1693.0,644.5 L1695.0,656.0 L1697.0,644.5 L1889.0,644.5" fill="none" stroke="#6a4585" stroke-width="10" stroke-linejoin="round" stroke-linecap="round"/><g fill="#6a4585"><path d="M394.5,380.0 L402.5,340.0 L410.0,327.0 L418.4,340.0 L418.4,380.0 L415.0,410.0 L404.0,410.0 Z"/><path d="M459.5,850.0 L460.4,880.0 L466.0,910.0 L473.7,939.0 L480.0,910.0 L484.0,880.0 L485.0,850.0 Z"/><path d="M529.5,400.0 L534.8,360.0 L540.0,326.0 L546.0,326.0 L550.8,350.0 L553.4,400.0 L551.0,426.0 L530.0,426.0 Z"/><path d="M593.0,845.0 L600.0,890.0 L608.7,960.0 L616.0,890.0 L620.0,845.0 Z"/><path d="M654.0,450.0 L657.0,430.0 L664.0,385.0 L674.0,344.0 L683.0,370.0 L688.0,430.0 L686.0,455.0 L665.0,455.0 L662.0,450.0 Z"/><path d="M729.0,892.0 L736.0,930.0 L742.0,950.0 L748.0,920.0 L750.0,892.0 Z"/><path d="M866.0,860.0 L872.0,940.0 L876.0,940.0 L882.0,860.0 Z"/><path d="M998.0,860.0 L1004.0,900.0 L1007.7,922.0 L1012.0,900.0 L1016.0,860.0 Z"/><path d="M1533.0,700.0 L1549.0,700.0 L1550.5,780.0 L1545.0,862.0 L1537.0,780.0 Z"/><path d="M1662.0,800.0 L1680.0,800.0 L1680.0,860.0 L1677.5,912.0 L1666.0,850.0 Z"/></g></g>
</g>
<ellipse cx="743.8" cy="713" rx="66" ry="259.9" fill="none" stroke="#00ad47" stroke-width="17.7"/>
<text x="225" y="149.5" text-anchor="end" font-family="Liberation Serif, serif" font-size="57" fill="#000" stroke="#fff" stroke-width="0.7">200</text>
<text x="1937.5" y="149.5" font-family="Liberation Serif, serif" font-size="57" fill="#000" stroke="#fff" stroke-width="0.7">200</text>
<text x="225" y="275.2" text-anchor="end" font-family="Liberation Serif, serif" font-size="57" fill="#000" stroke="#fff" stroke-width="0.7">150</text>
<text x="1937.5" y="275.2" font-family="Liberation Serif, serif" font-size="57" fill="#000" stroke="#fff" stroke-width="0.7">150</text>
<text x="225" y="401.5" text-anchor="end" font-family="Liberation Serif, serif" font-size="57" fill="#000" stroke="#fff" stroke-width="0.7">100</text>
<text x="1937.5" y="401.5" font-family="Liberation Serif, serif" font-size="57" fill="#000" stroke="#fff" stroke-width="0.7">100</text>
<text x="225" y="529.2" text-anchor="end" font-family="Liberation Serif, serif" font-size="57" fill="#000" stroke="#fff" stroke-width="0.7">50</text>
<text x="1937.5" y="529.2" font-family="Liberation Serif, serif" font-size="57" fill="#000" stroke="#fff" stroke-width="0.7">50</text>
<text x="225" y="654.5" text-anchor="end" font-family="Liberation Serif, serif" font-size="57" fill="#000" stroke="#fff" stroke-width="0.7">0</text>
<text x="1937.5" y="654.5" font-family="Liberation Serif, serif" font-size="57" fill="#000" stroke="#fff" stroke-width="0.7">0</text>
<text x="225" y="783.3" text-anchor="end" font-family="Liberation Serif, serif" font-size="57" fill="#000" stroke="#fff" stroke-width="0.7">-50</text>
<text x="1937.5" y="783.3" font-family="Liberation Serif, serif" font-size="57" fill="#000" stroke="#fff" stroke-width="0.7">-50</text>
<text x="225" y="911.4" text-anchor="end" font-family="Liberation Serif, serif" font-size="57" fill="#000" stroke="#fff" stroke-width="0.7">-100</text>
<text x="1937.5" y="911.4" font-family="Liberation Serif, serif" font-size="57" fill="#000" stroke="#fff" stroke-width="0.7">-100</text>
<text x="225" y="1037.4" text-anchor="end" font-family="Liberation Serif, serif" font-size="57" fill="#000" stroke="#fff" stroke-width="0.7">-150</text>
<text x="1937.5" y="1037.4" font-family="Liberation Serif, serif" font-size="57" fill="#000" stroke="#fff" stroke-width="0.7">-150</text>
<text x="225" y="1165.5" text-anchor="end" font-family="Liberation Serif, serif" font-size="57" fill="#000" stroke="#fff" stroke-width="0.7">-200</text>
<text x="1937.5" y="1165.5" font-family="Liberation Serif, serif" font-size="57" fill="#000" stroke="#fff" stroke-width="0.7">-200</text>
<text x="287.5" y="1232" text-anchor="middle" font-family="Liberation Serif, serif" font-size="57" fill="#000" stroke="#fff" stroke-width="0.7">500</text>
<text x="1088.6" y="1232" text-anchor="middle" font-family="Liberation Serif, serif" font-size="57" fill="#000" stroke="#fff" stroke-width="0.7">600</text>
<text x="1889.7" y="1232" text-anchor="middle" font-family="Liberation Serif, serif" font-size="57" fill="#000" stroke="#fff" stroke-width="0.7">700</text>
<text x="1089.5" y="1305" text-anchor="middle" font-family="Liberation Serif, serif" font-size="56.2" fill="#000" stroke="#fff" stroke-width="0.7">Time [ms]</text>
<text transform="translate(100,640.2) rotate(-90)" text-anchor="middle" font-family="Liberation Serif, serif" font-size="56.2" fill="#000" stroke="#fff" stroke-width="0.7">Voltage [V]</text>
<text transform="translate(2107,640) rotate(-90)" text-anchor="middle" font-family="Liberation Serif, serif" font-size="56.2" fill="#000" stroke="#fff" stroke-width="0.7">Current [A]</text>
<line x1="590" y1="61.6" x2="643.5" y2="61.6" stroke="#ff0000" stroke-width="10.5" stroke-linecap="round"/>
<text x="648" y="80" font-family="Liberation Serif, serif" font-size="57" fill="#000" stroke="#fff" stroke-width="0.7">Experimental voltage</text>
<line x1="1356" y1="61.6" x2="1409" y2="61.6" stroke="#4aa8d6" stroke-width="10.5" stroke-linecap="round"/>
<text x="1417" y="80" font-family="Liberation Serif, serif" font-size="57" fill="#000" stroke="#fff" stroke-width="0.7">Current</text>
</svg></body></html>
